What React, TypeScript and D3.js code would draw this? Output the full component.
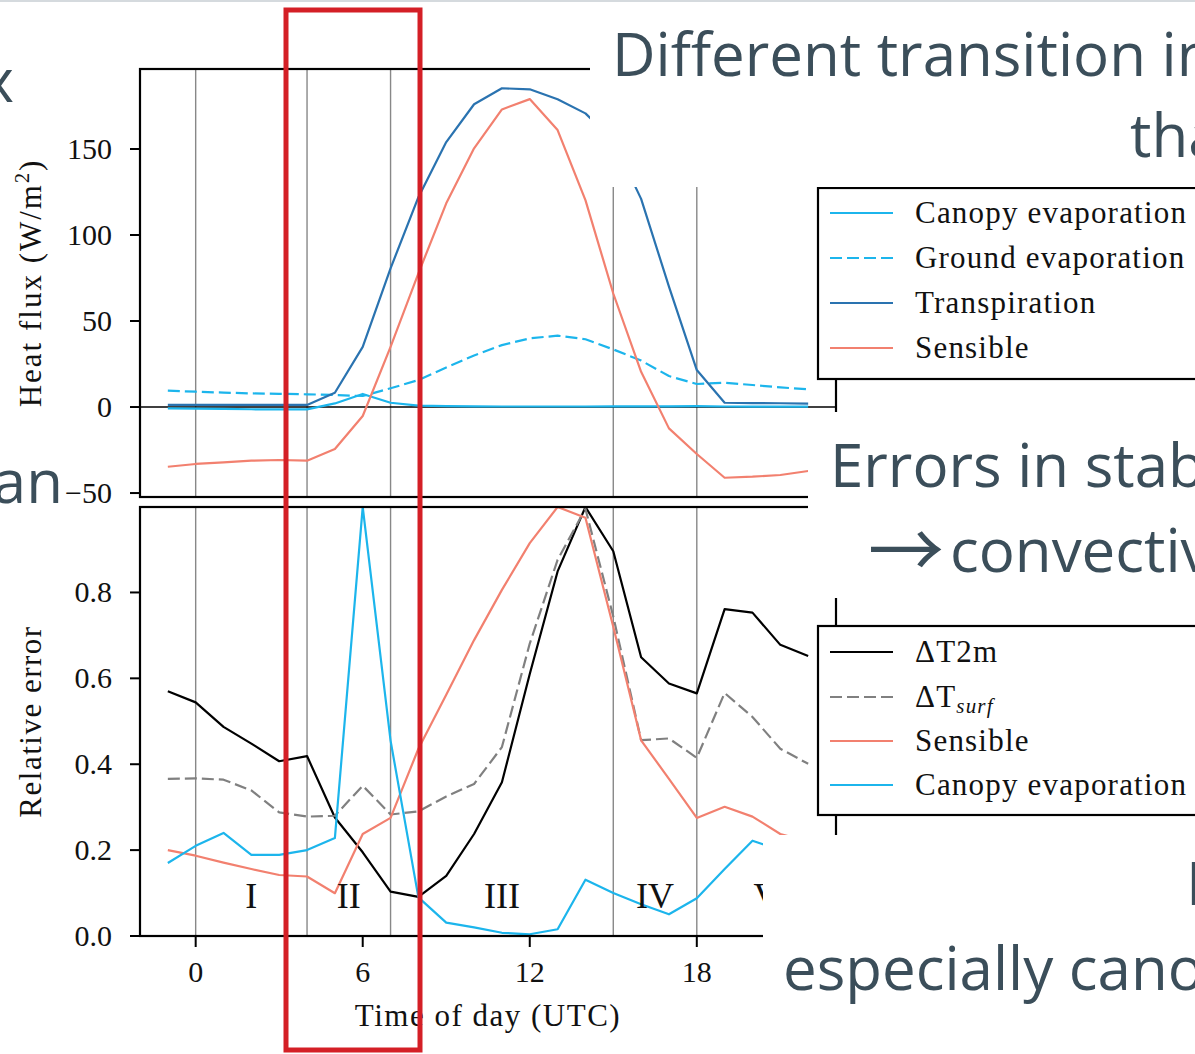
import React from 'react';
import * as d3 from 'd3';

// Hours of the diurnal cycle (UTC)
const hours = [-1, 0, 1, 2, 3, 4, 5, 6, 7, 8, 9, 10, 11, 12, 13, 14, 15, 16, 17, 18, 19, 20, 21, 22];

// Heat fluxes (W/m^2)
const canopyFlux = [-0.8, -0.9, -1.1, -1.3, -1.4, -1.4, 2.1, 7.6, 2.5, 0.8, 0.5, 0.4, 0.3, 0.3, 0.3, 0.3, 0.4, 0.4, 0.4, 0.5, 0.3, 0.2, 0.2, 0.2];
const groundFlux = [9.5, 8.9, 8.4, 7.9, 7.7, 7.4, 7.0, 6.4, 10.9, 15.7, 23, 30, 36, 39.9, 41.5, 39.4, 33.5, 27, 18, 13.4, 14.1, 12.8, 11.4, 10.3];
const transpirationFlux = [1.2, 1.2, 1.2, 1.2, 1.2, 1.2, 8.3, 35, 80.6, 122, 154, 176, 185.3, 184.7, 178.9, 170.7, 155, 121, 70, 21.5, 2.5, 2.3, 2.2, 2.0];
const sensibleFlux = [-34.7, -33.1, -32.2, -31.2, -30.8, -31.2, -24.4, -5.2, 35, 77.7, 118.4, 150.4, 173, 179, 161, 120.3, 66, 20.5, -12.4, -27.3, -41.1, -40.5, -39.5, -37.2];

// Relative errors
const dT2mErr = [0.570, 0.544, 0.487, 0.448, 0.407, 0.419, 0.276, 0.195, 0.1035, 0.091, 0.140, 0.2375, 0.358, 0.61, 0.849, 0.999, 0.896, 0.649, 0.588, 0.565, 0.761, 0.753, 0.678, 0.652];
const dTsurfErr = [0.366, 0.367, 0.364, 0.339, 0.288, 0.278, 0.280, 0.350, 0.283, 0.290, 0.325, 0.354, 0.44, 0.681, 0.876, 0.995, 0.744, 0.456, 0.46, 0.415, 0.566, 0.51, 0.436, 0.401];
const sensibleErr = [0.200, 0.187, 0.171, 0.156, 0.142, 0.1385, 0.0997, 0.2375, 0.275, 0.436, 0.562, 0.689, 0.806, 0.915, 0.999, 0.974, 0.72, 0.4556, 0.366, 0.275, 0.301, 0.278, 0.2375, 0.22];
const canopyErr = [0.170, 0.210, 0.240, 0.189, 0.189, 0.200, 0.228, 0.999, 0.455, 0.09, 0.031, 0.02, 0.0075, 0.004, 0.0157, 0.131, 0.1, 0.074, 0.0506, 0.088, 0.156, 0.222, 0.2, 0.18];

// Regime boundaries and labels
const phaseBounds = [0, 4, 7, 15, 18];
const phaseLabels = ['I', 'II', 'III', 'IV', 'V'];
const phaseCenters = [2, 5.5, 11, 16.5, 20.5];

const fluxTicks = [-50, 0, 50, 100, 150];
const errTicks = [0, 0.2, 0.4, 0.6, 0.8];
const timeTicks = [0, 6, 12, 18];

const C_CANOPY = '#1cb5ec';
const C_TRANSP = '#2a73b0';
const C_SENS = '#f2806f';
const C_GREY = '#808080';
const SLIDE = '#3b4e5a';
const SERIF = '"Liberation Serif", "DejaVu Serif", serif';
const SANS = '"Open Sans", "Noto Sans", sans-serif';

export default function App() {
  const W = 1195;
  const H = 1054;
  const left = 140;
  const right = 836;
  const topA = 69, botA = 497;
  const topB = 507, botB = 936;

  const x = d3.scaleLinear().domain([-2, 23]).range([left, right]);
  const yF = d3.scaleLinear().domain([-52.3, 196.5]).range([botA, topA]);
  const yE = d3.scaleLinear().domain([0, 0.999]).range([botB, topB]);

  const lineF = (vals: number[]) =>
    d3.line<number>().x((_, i) => x(hours[i])).y((v) => yF(v))(vals) || '';
  const lineE = (vals: number[]) =>
    d3.line<number>().x((_, i) => x(hours[i])).y((v) => yE(v))(vals) || '';

  const fs = 30;
  const lab = { fontFamily: SERIF, fontSize: 31, fill: '#111', letterSpacing: 1.5 };
  const leg = { fontFamily: SERIF, fontSize: 31, fill: '#111', letterSpacing: 1.2 };

  const fluxSeries = [
    { vals: canopyFlux, color: C_CANOPY, dash: undefined, label: 'Canopy evaporation' },
    { vals: groundFlux, color: C_CANOPY, dash: '12,5', label: 'Ground evaporation' },
    { vals: transpirationFlux, color: C_TRANSP, dash: undefined, label: 'Transpiration' },
    { vals: sensibleFlux, color: C_SENS, dash: undefined, label: 'Sensible' },
  ];
  const errSeries = [
    { vals: dT2mErr, color: '#000', dash: undefined },
    { vals: dTsurfErr, color: C_GREY, dash: '12,5' },
    { vals: sensibleErr, color: C_SENS, dash: undefined },
    { vals: canopyErr, color: C_CANOPY, dash: undefined },
  ];

  const legend1Rows = [213, 258, 303, 348];
  const legend2Rows = [652, 697, 741, 785];

  return (
    <svg
      width={W}
      height={H}
      viewBox={`0 0 ${W} ${H}`}
      style={{ position: 'absolute', left: 0, top: 0, background: '#fff' }}
    >
      <defs>
        <clipPath id="clipA">
          <rect x={left} y={topA} width={right - left} height={botA - topA} />
        </clipPath>
        <clipPath id="clipB">
          <rect x={left} y={topB} width={right - left} height={botB - topB} />
        </clipPath>
      </defs>
      <rect x={0} y={0} width={W} height={H} fill="#fff" />

      {/* Upper panel: heat fluxes */}
      <g clipPath="url(#clipA)">
        {phaseBounds.map((b) => (
          <line key={b} x1={x(b)} x2={x(b)} y1={topA} y2={botA} stroke="#888" strokeWidth={1.4} />
        ))}
        <line x1={left} x2={right} y1={yF(0)} y2={yF(0)} stroke="#000" strokeWidth={1.6} />
        {fluxSeries.map((s, i) => (
          <path key={i} d={lineF(s.vals)} fill="none" stroke={s.color} strokeWidth={2.2}
            strokeDasharray={s.dash} strokeLinejoin="round" />
        ))}
      </g>
      <rect x={left} y={topA} width={right - left} height={botA - topA} fill="none" stroke="#000" strokeWidth={2.2} />
      {fluxTicks.map((t) => (
        <g key={t}>
          <line x1={left - 10} x2={left} y1={yF(t)} y2={yF(t)} stroke="#000" strokeWidth={2} />
          <text x={left - 28} y={yF(t) + 10} textAnchor="end" fontFamily={SERIF} fontSize={fs} fill="#111">
            {t < 0 ? `\u2212${Math.abs(t)}` : t}
          </text>
        </g>
      ))}
      <text transform={`translate(41, ${(topA + botA) / 2}) rotate(-90)`} textAnchor="middle"
        {...lab} letterSpacing={2}>
        Heat flux (W/m<tspan dy={-12} fontSize={20}>2</tspan><tspan dy={12}>)</tspan>
      </text>

      {/* Lower panel: relative errors */}
      <g clipPath="url(#clipB)">
        {phaseBounds.map((b) => (
          <line key={b} x1={x(b)} x2={x(b)} y1={topB} y2={botB} stroke="#888" strokeWidth={1.4} />
        ))}
        {errSeries.map((s, i) => (
          <path key={i} d={lineE(s.vals)} fill="none" stroke={s.color} strokeWidth={2.2}
            strokeDasharray={s.dash} strokeLinejoin="round" />
        ))}
        {phaseLabels.map((l, i) => (
          <text key={l} x={x(phaseCenters[i])} y={908} textAnchor="middle" fontFamily={SERIF}
            fontSize={36} fill="#111">{l}</text>
        ))}
      </g>
      <rect x={left} y={topB} width={right - left} height={botB - topB} fill="none" stroke="#000" strokeWidth={2.2} />
      {errTicks.map((t) => (
        <g key={t}>
          <line x1={left - 10} x2={left} y1={yE(t)} y2={yE(t)} stroke="#000" strokeWidth={2} />
          <text x={left - 28} y={yE(t) + 10} textAnchor="end" fontFamily={SERIF} fontSize={fs} fill="#111">
            {t.toFixed(1)}
          </text>
        </g>
      ))}
      {timeTicks.map((t) => (
        <g key={t}>
          <line x1={x(t)} x2={x(t)} y1={botB} y2={botB + 11} stroke="#000" strokeWidth={2} />
          <text x={x(t)} y={botB + 46} textAnchor="middle" fontFamily={SERIF} fontSize={fs} fill="#111">{t}</text>
        </g>
      ))}
      <text transform={`translate(41, ${(topB + botB) / 2}) rotate(-90)`} textAnchor="middle" {...lab}>
        Relative error
      </text>
      <text x={(left + right) / 2} y={1026} textAnchor="middle" {...lab}>
        Time of day (UTC)
      </text>

      {/* Legend of the flux panel */}
      <rect x={818} y={188} width={420} height={191} fill="#fff" stroke="#000" strokeWidth={2.2} />
      {fluxSeries.map((s, i) => (
        <g key={i}>
          <line x1={830} x2={893} y1={legend1Rows[i]} y2={legend1Rows[i]} stroke={s.color}
            strokeWidth={2.2} strokeDasharray={s.dash} />
          <text x={915} y={legend1Rows[i] + 10} {...leg}>{s.label}</text>
        </g>
      ))}

      {/* Legend of the error panel */}
      <rect x={818} y={626} width={420} height={189} fill="#fff" stroke="#000" strokeWidth={2.2} />
      {errSeries.map((s, i) => (
        <line key={i} x1={830} x2={893} y1={legend2Rows[i]} y2={legend2Rows[i]} stroke={s.color}
          strokeWidth={2.2} strokeDasharray={s.dash} />
      ))}
      <text x={915} y={legend2Rows[0] + 10} {...leg}>ΔT2m</text>
      <text x={915} y={legend2Rows[1] + 10} {...leg}>
        ΔT<tspan dy={6} fontSize={21} fontStyle="italic">surf</tspan>
      </text>
      <text x={915} y={legend2Rows[2] + 10} {...leg}>Sensible</text>
      <text x={915} y={legend2Rows[3] + 10} {...leg}>Canopy evaporation</text>

      {/* Slide text boxes laid over the figure */}
      <rect x={590} y={0} width={W - 590} height={187} fill="#fff" />
      <rect x={808} y={412} width={W - 808} height={186} fill="#fff" />
      <rect x={763} y={835} width={W - 763} height={H - 835} fill="#fff" />

      <text x={612} y={76} fontFamily={SANS} fontSize={60} fill={SLIDE}>Different transition in</text>
      <text x={1130} y={157} fontFamily={SANS} fontSize={60} fill={SLIDE}>than</text>
      <text x={830} y={487} fontFamily={SANS} fontSize={60} fill={SLIDE}>Errors in stability</text>
      <text x={868} y={578} fontFamily='"Noto Sans CJK SC", "Noto Sans", sans-serif' fontSize={76} fill={SLIDE}>→</text>
      <text x={950} y={572} fontFamily={SANS} fontSize={60} fill={SLIDE}>convective</text>
      <text x={1186} y={905} fontFamily={SANS} fontSize={60} fill={SLIDE}>I</text>
      <text x={783} y={990} fontFamily={SANS} fontSize={60} fill={SLIDE}>especially canopy</text>
      <text x={14} y={102} textAnchor="end" fontFamily={SANS} fontSize={60} fill={SLIDE}>x</text>
      <text x={63} y={503} textAnchor="end" fontFamily={SANS} fontSize={60} fill={SLIDE}>an</text>

      <line x1={0} x2={W} y1={1} y2={1} stroke="#d5dade" strokeWidth={2} />

      {/* Highlighted morning transition */}
      <rect x={286} y={10} width={134} height={1040} fill="none" stroke="#d41f26" strokeWidth={5} />
    </svg>
  );
}
